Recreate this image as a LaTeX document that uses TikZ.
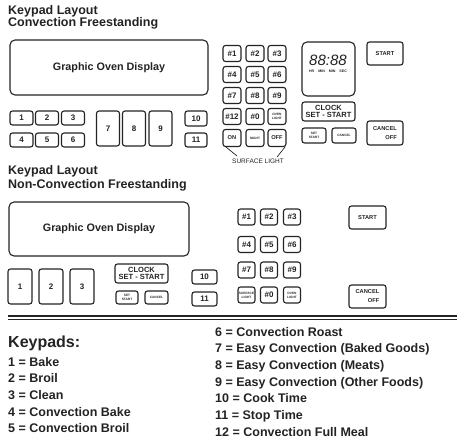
\documentclass[tikz,border=0pt]{standalone}
\usepackage{fontspec}
\setmainfont{Liberation Sans}

\definecolor{ink}{RGB}{35,35,35}

\tikzset{
  keyb/.style 2 args={draw=ink, line width=1.1pt, rounded corners=2.5pt, inner sep=0pt,
    minimum width=#1pt, minimum height=#2pt, text=ink,
    font=\bfseries\fontsize{8}{9}\selectfont},
  panel/.style 2 args={keyb={#1}{#2}, rounded corners=5pt,
    font=\bfseries\fontsize{10.8}{12}\selectfont},
  tiny/.style={align=center, font=\bfseries\fontsize{3.2}{3.8}\selectfont},
  small/.style={align=center, font=\bfseries\fontsize{5.7}{6.5}\selectfont},
  heading/.style={anchor=base west, inner sep=0pt, text=ink,
    font=\bfseries\fontsize{12.5}{14}\selectfont},
}

\begin{document}
\begin{tikzpicture}[x=1pt,y=-1pt]

  \useasboundingbox (0,0) rectangle (464,447);

  % convection freestanding
  \node[heading] (ta) at (8,14) {Keypad Layout};
  \node[heading] (tb) at (8,27) {Convection Freestanding};

  \node[panel={198}{55}] (disp) at (109,67.5) {Graphic Oven Display};

  \foreach \n/\x/\y in {1/21.5/118, 2/47/118, 3/73/118, 4/21.5/140, 5/47/140, 6/73/140}
    \node[keyb={23}{14}] (k\n) at (\x,\y) {\n};
  \foreach \n/\x in {7/108, 8/134, 9/160.5}
    \node[keyb={23}{35}] (k\n) at (\x,128.5) {\n};
  \node[keyb={22}{15}] (k10) at (196,118.5) {10};
  \node[keyb={22}{14}] (k11) at (196,140) {11};

  % number pad
  \foreach \r/\y in {0/53.5, 1/74.5, 2/95.5}
    \foreach \c/\x in {1/232, 2/255, 3/277}
    {
      \pgfmathtruncatemacro{\n}{3*\r+\c}
      \node[keyb={18}{16}] (p\n) at (\x,\y) {\#\n};
    }
  \node[keyb={18}{16}] (p12) at (232,116.5) {\#12};
  \node[keyb={18}{16}] (p0) at (255,116.5) {\#0};
  \node[keyb={18}{16}, tiny] (ovl) at (277,116.5) {OVEN\\LIGHT};
  \node[keyb={18}{17}, small] (on) at (232,138) {ON};
  \node[keyb={18}{17}, tiny] (night) at (255,138) {NIGHT};
  \node[keyb={18}{17}, small] (off) at (277,138) {OFF};

  \node[inner sep=0pt, text=ink, font=\fontsize{6.5}{7}\selectfont] (sl) at (258,161) {SURFACE LIGHT};
  \coordinate (sla) at (237,156);
  \coordinate (slb) at (277,157);
  \draw[ink, line width=0.7pt] ([xshift=-6pt]on.south) -- (sla);
  \draw[ink, line width=0.7pt] ([xshift=8pt]off.south) -- (slb);

  % clock
  \node[panel={53}{54}] (timer) at (328.5,69) {};
  \node[inner sep=0pt, text=ink, font=\itshape\fontsize{15}{15}\selectfont] (digits) at (328,60) {88:88};
  \node[inner sep=0pt, text=ink, font=\bfseries\fontsize{3.6}{4}\selectfont] (units) at (328,71)
    {HR\hspace{4pt}MIN\hspace{4pt}MIN\hspace{4pt}SEC};

  \node[keyb={36}{23}, small] (start) at (385,53.5) {START};
  \node[keyb={53}{19}, align=center, font=\bfseries\fontsize{7.5}{7.5}\selectfont] (clock) at (328.5,111.5) {CLOCK\\SET - START};
  \node[keyb={24}{15}, tiny] (setst) at (314,135.5) {SET\\START};
  \node[keyb={24}{15}, tiny] (cncl) at (344,135.5) {CANCEL};
  \node[keyb={36}{24}, small, align=right, font=\bfseries\fontsize{5.7}{9}\selectfont] (cnoff) at (385,133) {CANCEL\\OFF};

  % non-convection freestanding
  \node[heading] (tc) at (8,174) {Keypad Layout};
  \node[heading] (td) at (8,188) {Non-Convection Freestanding};

  \node[panel={180}{54}] (disp2) at (99,229) {Graphic Oven Display};

  \foreach \n/\x in {1/20, 2/51, 3/82}
    \node[keyb={24}{35}] (m\n) at (\x,286.5) {\n};
  \node[keyb={53}{19}, align=center, font=\bfseries\fontsize{7.5}{7.5}\selectfont] (clock2) at (141.5,273.5) {CLOCK\\SET - START};
  \node[keyb={22}{13}, tiny] (setst2) at (127,297.5) {SET\\START};
  \node[keyb={23}{13}, tiny] (cncl2) at (156.5,297.5) {CANCEL};
  \node[keyb={25}{14}] (m10) at (204.5,277) {10};
  \node[keyb={25}{14}] (m11) at (204.5,299) {11};

  \foreach \r/\y in {0/217, 1/244.5, 2/270}
    \foreach \c/\x in {1/246.5, 2/269, 3/292}
    {
      \pgfmathtruncatemacro{\n}{3*\r+\c}
      \node[keyb={17}{16}] (q\n) at (\x,\y) {\#\n};
    }
  \node[keyb={17}{16}, tiny] (sfl) at (246.5,295) {SURFACE\\LIGHT};
  \node[keyb={17}{16}] (q0) at (269,295) {\#0};
  \node[keyb={17}{16}, tiny] (ovl2) at (292,295) {OVEN\\LIGHT};

  \node[keyb={37}{23}, small] (start2) at (367.5,217.5) {START};
  \node[keyb={37}{23}, small, align=right, font=\bfseries\fontsize{5.7}{9}\selectfont] (cnoff2) at (367.5,296.5) {CANCEL\\OFF};

  % legend
  \draw[ink, line width=1.6pt] (8,316) -- (457,316);
  \draw[ink, line width=0.8pt] (8,319.5) -- (457,319.5);

  \node[heading, font=\bfseries\fontsize{16}{18}\selectfont] (kp) at (8,347) {Keypads:};
  \foreach \t [count=\i] in {1 = Bake, 2 = Broil, 3 = Clean, 4 = Convection Bake, 5 = Convection Broil}
    \node[heading] (l\i) at (8,{349.3+16.7*\i}) {\t};
  \foreach \t [count=\i from 6] in {6 = Convection Roast, 7 = Easy Convection (Baked Goods),
      8 = Easy Convection (Meats), 9 = Easy Convection (Other Foods), 10 = Cook Time,
      11 = Stop Time, 12 = Convection Full Meal}
    \node[heading] (r\i) at (215,{336+16.67*(\i-6)}) {\t};

\end{tikzpicture}
\end{document}
